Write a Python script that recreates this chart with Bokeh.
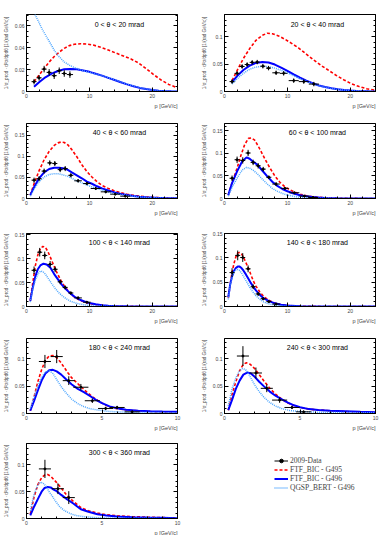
import math
from bokeh.plotting import figure
from bokeh.models import (Range1d, FixedTicker, NumeralTickFormatter, Label, Title,
                          LinearAxis, Legend, LegendItem, ColumnDataSource,
                          CustomJSTickFormatter)
from bokeh.layouts import column, row
from bokeh.embed import file_html
from bokeh.resources import INLINE

# ---------------- data ----------------
titles = ["0 < θ < 20 mrad", "20 < θ < 40 mrad", "40 < θ < 60 mrad",
          "60 < θ < 100 mrad", "100 < θ < 140 mrad", "140 < θ < 180 mrad",
          "180 < θ < 240 mrad", "240 < θ < 300 mrad", "300 < θ < 360 mrad"]
x_max = [24, 24, 24, 24, 24, 24, 10, 10, 10]
y_max = [0.0705, 0.14, 0.178, 0.166, 0.153, 0.15, 0.137, 0.137, 0.14]
x_ticks_wide = [0, 10, 20]
x_ticks_narrow = [0, 5, 10]
y_ticks_first = [0, 0.02, 0.04, 0.06]
y_ticks_other = [0, 0.05, 0.1, 0.15]
x_title = "p [GeV/c]"
y_title = "1/σ_prod · d²σ/dpdθ [1/(rad GeV/c)]"

# panel 1 : 0-20 mrad
data_p_1 = [1.2, 2.0, 2.8, 3.6, 4.4, 5.2, 6.0, 6.9]
data_y_1 = [0.009, 0.0125, 0.0205, 0.0175, 0.0145, 0.019, 0.0165, 0.0155]
data_ey_1 = [0.0025, 0.0025, 0.003, 0.003, 0.003, 0.003, 0.003, 0.003]
data_ex_1 = [0.4, 0.4, 0.4, 0.4, 0.4, 0.4, 0.4, 0.5]
g495_p_1 = [1.2, 2.0, 2.8, 3.6, 4.4, 5.2, 6.0, 6.8, 7.6, 8.6, 9.6, 10.6, 11.8, 13.0, 14.2, 15.4, 16.6, 17.8, 19.0, 20.2, 21.4, 22.6, 23.8]
g495_y_1 = [0.009, 0.015, 0.021, 0.027, 0.032, 0.036, 0.0395, 0.042, 0.0432, 0.0437, 0.0434, 0.0425, 0.0405, 0.038, 0.0352, 0.0325, 0.0298, 0.0262, 0.021, 0.0155, 0.0105, 0.0065, 0.0038]
g496_p_1 = [1.2, 2, 3, 4, 5, 6, 7, 8, 9, 10, 11, 12, 13, 14, 15, 16, 17, 18, 19, 20, 21, 22, 23, 24]
g496_y_1 = [0.0043, 0.0085, 0.013, 0.0163, 0.0188, 0.0203, 0.0207, 0.0203, 0.0193, 0.018, 0.0163, 0.0145, 0.0125, 0.0105, 0.0085, 0.0065, 0.0048, 0.0033, 0.0022, 0.0013, 0.0008, 0.0004, 0.0002, 0.0001]
qgsp_p_1 = [1.2, 1.4, 2, 2.5, 3, 3.5, 4, 4.5, 5, 5.5, 6, 7, 8, 9, 10, 11, 12, 13, 14, 15, 16, 17, 18, 19, 20, 21, 22, 23, 24]
qgsp_y_1 = [0.076, 0.07, 0.063, 0.057, 0.052, 0.047, 0.042, 0.037, 0.033, 0.03, 0.027, 0.0235, 0.021, 0.019, 0.0175, 0.016, 0.0145, 0.0127, 0.0107, 0.0087, 0.0067, 0.005, 0.0035, 0.0023, 0.0014, 0.0008, 0.0004, 0.0002, 0.0001]

# panel 2 : 20-40 mrad
data_p_2 = [1.2, 2.0, 2.8, 3.6, 4.4, 5.2, 6.1, 7.0, 8.2, 9.4, 11.0, 12.6, 14.2]
data_y_2 = [0.018, 0.033, 0.0455, 0.049, 0.053, 0.0535, 0.046, 0.0425, 0.034, 0.033, 0.0198, 0.018, 0.0135]
data_ey_2 = [0.004] * 13
data_ex_2 = [0.4, 0.4, 0.4, 0.4, 0.4, 0.4, 0.4, 0.4, 0.6, 0.6, 0.8, 0.8, 0.8]
g495_p_2 = [1.2, 2, 3, 4, 5, 6, 6.8, 7.6, 8.6, 9.6, 10.6, 11.8, 13, 14.2, 15.4, 16.6, 17.8, 19, 20.2, 21.4, 22.6, 23.8]
g495_y_2 = [0.02, 0.038, 0.06, 0.078, 0.093, 0.102, 0.106, 0.105, 0.101, 0.095, 0.088, 0.079, 0.068, 0.057, 0.047, 0.038, 0.029, 0.021, 0.014, 0.009, 0.005, 0.0025]
g496_p_2 = [1.2, 2, 3, 4, 5, 6, 7, 8, 9, 10, 11, 12, 13, 14, 15, 16, 17, 18, 19, 20, 21, 22, 23, 24]
g496_y_2 = [0.017, 0.028, 0.039, 0.047, 0.052, 0.0537, 0.0528, 0.049, 0.0435, 0.0375, 0.031, 0.025, 0.0195, 0.015, 0.011, 0.0082, 0.0058, 0.004, 0.0026, 0.0016, 0.001, 0.0006, 0.0003, 0.0002]
qgsp_p_2 = [1.2, 2, 3, 4, 5, 6, 7, 8, 9, 10, 11, 12, 13, 14, 15, 16, 17, 18, 19, 20, 21, 22, 23, 24]
qgsp_y_2 = [0.0135, 0.023, 0.033, 0.0405, 0.0445, 0.0457, 0.0452, 0.0425, 0.0385, 0.034, 0.0285, 0.0232, 0.0185, 0.0143, 0.0107, 0.0079, 0.0056, 0.0039, 0.0026, 0.0016, 0.001, 0.0006, 0.0003, 0.0002]

# panel 3 : 40-60 mrad
data_p_3 = [1.2, 2.0, 2.8, 3.7, 4.5, 5.35, 6.15, 7.05, 8.2, 9.6, 11.0, 12.6, 14.1, 15.7]
data_y_3 = [0.0435, 0.047, 0.065, 0.0845, 0.083, 0.0685, 0.071, 0.055, 0.042, 0.0355, 0.0237, 0.0158, 0.0103, 0.0055]
data_ey_3 = [0.006, 0.006, 0.006, 0.006, 0.006, 0.006, 0.006, 0.005, 0.004, 0.004, 0.003, 0.003, 0.002, 0.002]
data_ex_3 = [0.4, 0.4, 0.4, 0.4, 0.4, 0.4, 0.4, 0.4, 0.6, 0.6, 0.8, 0.8, 0.8, 0.8]
g495_p_3 = [0.6, 1.2, 2, 2.8, 3.6, 4.4, 5.0, 5.5, 6.0, 6.6, 7.2, 8, 8.8, 9.6, 10.4, 11.2, 12, 13, 14, 15, 16, 17, 18, 19, 20, 21, 22, 23, 24]
g495_y_3 = [0.008, 0.035, 0.066, 0.092, 0.112, 0.126, 0.132, 0.134, 0.133, 0.127, 0.116, 0.099, 0.08, 0.064, 0.051, 0.04, 0.031, 0.024, 0.018, 0.0135, 0.01, 0.0075, 0.0055, 0.004, 0.0028, 0.002, 0.0012, 0.0007, 0.0004]
g496_p_3 = [0.6, 1.2, 2, 2.8, 3.6, 4.4, 5.2, 6.0, 6.5, 7.2, 8, 8.8, 9.6, 10.4, 11.2, 12, 13, 14, 15, 16, 17, 18, 19, 20, 21, 22, 23, 24]
g496_y_3 = [0.008, 0.027, 0.048, 0.062, 0.07, 0.073, 0.073, 0.071, 0.0685, 0.062, 0.055, 0.048, 0.04, 0.035, 0.029, 0.024, 0.019, 0.0145, 0.011, 0.0082, 0.006, 0.0044, 0.0031, 0.0021, 0.0014, 0.0009, 0.0005, 0.0003]
qgsp_p_3 = [0.6, 1.2, 2, 2.8, 3.6, 4.4, 5.2, 6.0, 6.5, 7.2, 8, 8.8, 9.6, 10.4, 11.2, 12, 13, 14, 15, 16, 17, 18, 19, 20, 21, 22, 23, 24]
qgsp_y_3 = [0.0055, 0.022, 0.04, 0.051, 0.057, 0.059, 0.0585, 0.055, 0.053, 0.048, 0.042, 0.037, 0.032, 0.0275, 0.0235, 0.02, 0.0155, 0.012, 0.0092, 0.007, 0.0052, 0.0038, 0.0027, 0.0019, 0.0013, 0.0008, 0.0005, 0.0003]

# panel 4 : 60-100 mrad
data_p_4 = [1.2, 2.0, 2.9, 3.75, 4.55, 5.35, 6.15, 7.05, 8.2, 9.6, 11.1, 12.7, 14.1]
data_y_4 = [0.0448, 0.0858, 0.0843, 0.1007, 0.0799, 0.0724, 0.065, 0.047, 0.032, 0.0224, 0.0127, 0.0052, 0.0022]
data_ey_4 = [0.006, 0.007, 0.007, 0.007, 0.006, 0.006, 0.005, 0.004, 0.004, 0.003, 0.002, 0.002, 0.002]
data_ex_4 = [0.4, 0.4, 0.4, 0.4, 0.4, 0.4, 0.4, 0.4, 0.6, 0.6, 0.8, 0.8, 0.8]
g495_p_4 = [0.6, 1.2, 2, 2.6, 3.2, 3.8, 4.3, 4.8, 5.4, 6, 6.6, 7.2, 8, 8.8, 9.6, 10.4, 11.2, 12, 13, 14, 15, 16, 17, 18, 20, 22, 24]
g495_y_4 = [0.0075, 0.035, 0.067, 0.095, 0.119, 0.133, 0.134, 0.129, 0.115, 0.099, 0.083, 0.068, 0.05, 0.036, 0.026, 0.019, 0.014, 0.0095, 0.0062, 0.004, 0.0026, 0.0017, 0.0011, 0.0007, 0.0003, 0.0001, 0.0]
g496_p_4 = [0.6, 1.2, 2, 2.8, 3.5, 4.0, 4.6, 5.2, 6, 6.8, 7.6, 8.4, 9.2, 10, 11, 12, 13, 14, 15, 16, 18, 20, 22, 24]
g496_y_4 = [0.0075, 0.034, 0.06, 0.082, 0.091, 0.088, 0.081, 0.075, 0.062, 0.049, 0.037, 0.028, 0.021, 0.016, 0.011, 0.0072, 0.0048, 0.0031, 0.002, 0.0013, 0.0005, 0.0002, 0.0001, 0.0]
qgsp_p_4 = [0.6, 1.2, 2, 2.8, 3.5, 4.0, 4.6, 5.2, 6, 6.8, 7.6, 8.4, 9.2, 10, 11, 12, 13, 14, 15, 16, 18, 20, 22, 24]
qgsp_y_4 = [0.005, 0.025, 0.045, 0.063, 0.069, 0.067, 0.062, 0.055, 0.043, 0.032, 0.0224, 0.016, 0.011, 0.0077, 0.0048, 0.0029, 0.0018, 0.0011, 0.0007, 0.0004, 0.0002, 0.0001, 0.0, 0.0]

# panel 5 : 100-140 mrad
data_p_5 = [1.2, 2.1, 2.9, 3.75, 4.55, 5.35, 6.15, 7.05, 8.2, 9.6]
data_y_5 = [0.0759, 0.1138, 0.107, 0.0883, 0.078, 0.0517, 0.04, 0.0283, 0.018, 0.009]
data_ey_5 = [0.008, 0.009, 0.008, 0.007, 0.006, 0.005, 0.004, 0.003, 0.003, 0.002]
data_ex_5 = [0.4, 0.4, 0.4, 0.4, 0.4, 0.4, 0.4, 0.4, 0.6, 0.6]
g495_p_5 = [0.6, 1.0, 1.4, 1.8, 2.2, 2.6, 3.0, 3.4, 3.8, 4.3, 4.8, 5.4, 6, 6.8, 7.6, 8.4, 9.2, 10, 11, 12, 13, 14, 16, 18, 20, 24]
g495_y_5 = [0.012, 0.05, 0.085, 0.108, 0.121, 0.126, 0.124, 0.115, 0.103, 0.087, 0.072, 0.056, 0.043, 0.03, 0.02, 0.0135, 0.0092, 0.0062, 0.0037, 0.0022, 0.0013, 0.0008, 0.0003, 0.0001, 0.0, 0.0]
g496_p_5 = [0.6, 1.0, 1.4, 1.8, 2.2, 2.7, 3.2, 3.8, 4.4, 5, 5.6, 6.2, 7, 7.8, 8.6, 9.4, 10.2, 11, 12, 13, 14, 16, 18, 20, 24]
g496_y_5 = [0.012, 0.04, 0.063, 0.078, 0.086, 0.0897, 0.088, 0.081, 0.068, 0.057, 0.046, 0.037, 0.027, 0.019, 0.0135, 0.0095, 0.0066, 0.0045, 0.0028, 0.0017, 0.001, 0.0004, 0.0001, 0.0, 0.0]
qgsp_p_5 = [0.6, 1.0, 1.45, 1.9, 2.25, 2.6, 3.0, 3.5, 4, 4.6, 5.2, 6, 7, 8, 9, 10, 11, 12, 14, 16, 20, 24]
qgsp_y_5 = [0.009, 0.038, 0.057, 0.0695, 0.0745, 0.073, 0.068, 0.058, 0.048, 0.037, 0.028, 0.019, 0.011, 0.0065, 0.0038, 0.0022, 0.0013, 0.0008, 0.0003, 0.0001, 0.0, 0.0]

# panel 6 : 140-180 mrad
data_p_6 = [1.2, 2.1, 2.9, 3.75, 4.55, 5.35, 6.15, 7.05, 8.2]
data_y_6 = [0.0697, 0.105, 0.1006, 0.0774, 0.0406, 0.0258, 0.016, 0.010, 0.005]
data_ey_6 = [0.009, 0.01, 0.009, 0.007, 0.005, 0.004, 0.003, 0.002, 0.002]
data_ex_6 = [0.4, 0.4, 0.4, 0.4, 0.4, 0.4, 0.4, 0.4, 0.6]
g495_p_6 = [0.6, 0.9, 1.2, 1.5, 1.8, 2.1, 2.4, 2.7, 3.0, 3.4, 3.8, 4.2, 4.6, 5.0, 5.6, 6.2, 7, 8, 9, 10, 11, 12, 14, 16, 20, 24]
g495_y_6 = [0.018, 0.045, 0.07, 0.088, 0.102, 0.110, 0.111, 0.108, 0.102, 0.09, 0.079, 0.065, 0.052, 0.042, 0.03, 0.021, 0.0129, 0.007, 0.0037, 0.002, 0.0011, 0.0006, 0.0002, 0.0001, 0.0, 0.0]
g496_p_6 = [0.6, 0.9, 1.2, 1.5, 1.8, 2.1, 2.4, 2.7, 3.0, 3.4, 3.8, 4.2, 4.6, 5.0, 5.6, 6.2, 7, 8, 9, 10, 12, 14, 16, 20, 24]
g496_y_6 = [0.019, 0.045, 0.062, 0.073, 0.079, 0.082, 0.082, 0.079, 0.074, 0.066, 0.057, 0.048, 0.04, 0.033, 0.024, 0.017, 0.0116, 0.0065, 0.0035, 0.0019, 0.0006, 0.0002, 0.0001, 0.0, 0.0]
qgsp_p_6 = [0.6, 0.9, 1.2, 1.5, 1.8, 2.1, 2.4, 2.8, 3.2, 3.6, 4.0, 4.5, 5, 5.6, 6.2, 7, 8, 9, 10, 12, 14, 20, 24]
qgsp_y_6 = [0.0148, 0.043, 0.06, 0.07, 0.075, 0.076, 0.074, 0.067, 0.058, 0.049, 0.04, 0.03, 0.022, 0.015, 0.0095, 0.0055, 0.0028, 0.0014, 0.0007, 0.0002, 0.0001, 0.0, 0.0]

# panel 7 : 180-240 mrad
data_p_7 = [1.22, 2.0, 2.8, 3.6, 4.36, 5.24, 6.0, 7.0]
data_y_7 = [0.095, 0.104, 0.06, 0.048, 0.0233, 0.0092, 0.011, 0.003]
data_ey_7 = [0.012, 0.012, 0.008, 0.006, 0.004, 0.003, 0.003, 0.002]
data_ex_7 = [0.4, 0.4, 0.4, 0.5, 0.5, 0.5, 0.5, 0.5]
g495_p_7 = [0.25, 0.5, 0.75, 1.0, 1.25, 1.5, 1.75, 2.0, 2.25, 2.5, 2.75, 3.0, 3.3, 3.6, 4.0, 4.4, 4.8, 5.3, 5.8, 6.4, 7.0, 7.8, 8.6, 9.4, 10]
g495_y_7 = [0.005, 0.03, 0.058, 0.08, 0.097, 0.105, 0.106, 0.102, 0.094, 0.084, 0.074, 0.065, 0.057, 0.049, 0.039, 0.03, 0.022, 0.0145, 0.01, 0.0072, 0.0055, 0.004, 0.003, 0.0023, 0.0018]
g496_p_7 = [0.25, 0.5, 0.75, 1.0, 1.25, 1.5, 1.75, 2.0, 2.3, 2.6, 3.0, 3.4, 3.8, 4.2, 4.6, 5.0, 5.5, 6.0, 6.6, 7.4, 8.2, 9.0, 10]
g496_y_7 = [0.005, 0.023, 0.042, 0.06, 0.073, 0.079, 0.0798, 0.077, 0.071, 0.063, 0.053, 0.045, 0.039, 0.032, 0.025, 0.019, 0.013, 0.0095, 0.007, 0.0052, 0.0043, 0.0036, 0.003]
qgsp_p_7 = [0.25, 0.5, 0.75, 1.0, 1.25, 1.5, 1.75, 2.0, 2.3, 2.6, 3.0, 3.4, 3.8, 4.2, 4.7, 5.2, 5.8, 6.5, 7.5, 8.5, 10]
qgsp_y_7 = [0.009, 0.03, 0.05, 0.066, 0.076, 0.0785, 0.073, 0.062, 0.049, 0.038, 0.026, 0.018, 0.0125, 0.0088, 0.0065, 0.0045, 0.0032, 0.0025, 0.002, 0.0017, 0.0014]

# panel 8 : 240-300 mrad
data_p_8 = [1.22, 2.08, 2.8, 3.65, 4.47, 5.24]
data_y_8 = [0.105, 0.074, 0.046, 0.0245, 0.011, 0.003]
data_ey_8 = [0.018, 0.01, 0.007, 0.005, 0.003, 0.002]
data_ex_8 = [0.4, 0.4, 0.4, 0.5, 0.5, 0.5]
g495_p_8 = [0.25, 0.5, 0.75, 1.0, 1.25, 1.45, 1.7, 2.0, 2.3, 2.6, 3.0, 3.4, 3.8, 4.2, 4.6, 5.0, 5.6, 6.2, 7.0, 8.0, 9.0, 10]
g495_y_8 = [0.006, 0.035, 0.058, 0.078, 0.09, 0.0926, 0.09, 0.082, 0.071, 0.06, 0.046, 0.035, 0.026, 0.019, 0.0145, 0.011, 0.008, 0.0065, 0.005, 0.0035, 0.0025, 0.0018]
g496_p_8 = [0.25, 0.5, 0.75, 1.0, 1.25, 1.5, 1.75, 2.0, 2.3, 2.6, 3.0, 3.4, 3.8, 4.2, 4.6, 5.0, 5.6, 6.2, 7, 8, 9, 10]
g496_y_8 = [0.006, 0.025, 0.045, 0.06, 0.071, 0.0748, 0.073, 0.067, 0.058, 0.05, 0.04, 0.032, 0.026, 0.02, 0.015, 0.0115, 0.008, 0.0065, 0.005, 0.004, 0.003, 0.0025]
qgsp_p_8 = [0.25, 0.5, 0.75, 1.0, 1.2, 1.4, 1.6, 1.8, 2.0, 2.3, 2.6, 3.0, 3.4, 3.8, 4.3, 5, 6, 7, 8, 10]
qgsp_y_8 = [0.014, 0.045, 0.065, 0.078, 0.0822, 0.08, 0.072, 0.062, 0.052, 0.04, 0.03, 0.02, 0.0135, 0.009, 0.0055, 0.0035, 0.0025, 0.002, 0.0017, 0.0012]

# panel 9 : 300-360 mrad
data_p_9 = [1.22, 2.08, 2.8]
data_y_9 = [0.0926, 0.0556, 0.039]
data_ey_9 = [0.017, 0.010, 0.012]
data_ex_9 = [0.4, 0.4, 0.4]
g495_p_9 = [0.25, 0.5, 0.75, 1.0, 1.2, 1.4, 1.6, 1.8, 2.0, 2.3, 2.7, 3.1, 3.6, 4.1, 4.7, 5.3, 6.0, 7.0, 8.0, 9.0, 10]
g495_y_9 = [0.008, 0.04, 0.063, 0.076, 0.081, 0.082, 0.079, 0.073, 0.067, 0.057, 0.042, 0.032, 0.0204, 0.0145, 0.01, 0.0072, 0.005, 0.0035, 0.0025, 0.0017, 0.001]
g496_p_9 = [0.25, 0.5, 0.8, 1.0, 1.2, 1.4, 1.6, 1.8, 2.0, 2.3, 2.7, 3.1, 3.6, 4.1, 4.7, 5.3, 6.0, 7, 8, 9, 10]
g496_y_9 = [0.006, 0.022, 0.039, 0.05, 0.057, 0.059, 0.058, 0.054, 0.051, 0.044, 0.0358, 0.028, 0.0173, 0.0125, 0.008, 0.0055, 0.0037, 0.0025, 0.0018, 0.0012, 0.0006]
qgsp_p_9 = [0.25, 0.5, 0.75, 0.93, 1.1, 1.3, 1.5, 1.7, 1.9, 2.2, 2.5, 2.9, 3.3, 3.8, 4.5, 5.5, 7, 10]
qgsp_y_9 = [0.014, 0.045, 0.063, 0.068, 0.066, 0.06, 0.05, 0.042, 0.033, 0.022, 0.015, 0.009, 0.0055, 0.0035, 0.0018, 0.0009, 0.0004, 0.0001]

legend_labels = ["2009-Data", "FTF_BIC - G495", "FTF_BIC - G496", "QGSP_BERT - G496"]

data_p = [data_p_1, data_p_2, data_p_3, data_p_4, data_p_5, data_p_6, data_p_7, data_p_8, data_p_9]
data_y = [data_y_1, data_y_2, data_y_3, data_y_4, data_y_5, data_y_6, data_y_7, data_y_8, data_y_9]
data_ey = [data_ey_1, data_ey_2, data_ey_3, data_ey_4, data_ey_5, data_ey_6, data_ey_7, data_ey_8, data_ey_9]
data_ex = [data_ex_1, data_ex_2, data_ex_3, data_ex_4, data_ex_5, data_ex_6, data_ex_7, data_ex_8, data_ex_9]
g495 = [(g495_p_1, g495_y_1), (g495_p_2, g495_y_2), (g495_p_3, g495_y_3), (g495_p_4, g495_y_4), (g495_p_5, g495_y_5),
        (g495_p_6, g495_y_6), (g495_p_7, g495_y_7), (g495_p_8, g495_y_8), (g495_p_9, g495_y_9)]
g496 = [(g496_p_1, g496_y_1), (g496_p_2, g496_y_2), (g496_p_3, g496_y_3), (g496_p_4, g496_y_4), (g496_p_5, g496_y_5),
        (g496_p_6, g496_y_6), (g496_p_7, g496_y_7), (g496_p_8, g496_y_8), (g496_p_9, g496_y_9)]
qgsp = [(qgsp_p_1, qgsp_y_1), (qgsp_p_2, qgsp_y_2), (qgsp_p_3, qgsp_y_3), (qgsp_p_4, qgsp_y_4), (qgsp_p_5, qgsp_y_5),
        (qgsp_p_6, qgsp_y_6), (qgsp_p_7, qgsp_y_7), (qgsp_p_8, qgsp_y_8), (qgsp_p_9, qgsp_y_9)]

# ---------------- style ----------------
RED = "#ff0000"
BLUE = "#0000ff"
LBLUE = "#4da6ff"
SANS = "Liberation Sans"
SERIF = "Liberation Serif"

ROW_CFG = [(14, 77, 27), (5, 75, 30), (5, 73, 27), (5, 75, 25), (5, 75, 16)]  # top, frame h, bottom
COL_CFG = [(26, 21), (24, 11)]  # left, right
FRAME_W = 151

EMPTY_FMT = CustomJSTickFormatter(code="return ''")


def style_axes(p, xt, yt, xmn, ymn):
    p.xaxis.ticker = FixedTicker(ticks=xt, minor_ticks=xmn)
    p.yaxis.ticker = FixedTicker(ticks=yt, minor_ticks=ymn)
    p.yaxis.formatter = NumeralTickFormatter(format="0.[00]")
    for ax in p.xaxis + p.yaxis:
        ax.major_tick_in = 4
        ax.major_tick_out = 0
        ax.minor_tick_in = 2
        ax.minor_tick_out = 0
        ax.major_label_text_font = SANS
        ax.major_label_text_font_size = "5px"
        ax.major_label_standoff = 2
        ax.axis_line_color = "black"
        ax.major_tick_line_color = "black"
        ax.minor_tick_line_color = "black"
    ya = p.yaxis[0]
    ya.axis_label = y_title
    ya.axis_label_text_font = SANS
    ya.axis_label_text_font_size = "4.6px"
    ya.axis_label_text_font_style = "normal"
    ya.axis_label_standoff = 3
    rax = LinearAxis(ticker=FixedTicker(ticks=yt, minor_ticks=ymn),
                     formatter=EMPTY_FMT, major_label_text_font_size="5px",
                     major_label_standoff=0,
                     major_tick_in=4, major_tick_out=0, minor_tick_in=2, minor_tick_out=0)
    p.add_layout(rax, "right")
    p.add_layout(Title(text=x_title, align="right", text_font=SANS,
                       text_font_size="5.5px", text_font_style="normal",
                       standoff=0, offset=0), "below")


figs = []
for i in range(9):
    r, c = divmod(i, 2)
    t, fh, b = ROW_CFG[r]
    lft, rgt = COL_CFG[c]
    xm, ym = x_max[i], y_max[i]
    p = figure(frame_width=FRAME_W, frame_height=fh,
               min_border_left=lft, min_border_right=rgt, min_border_top=t, min_border_bottom=b,
               x_range=Range1d(0, xm), y_range=Range1d(0, ym),
               output_backend="svg", toolbar_location=None)
    p.xgrid.visible = False
    p.ygrid.visible = False
    p.outline_line_color = "black"
    p.outline_line_width = 1
    p.background_fill_color = "white"
    p.border_fill_color = "white"

    if xm > 12:
        xt = x_ticks_wide
        xmn = [v for v in range(0, 25, 2)]
    else:
        xt = x_ticks_narrow
        xmn = [v for v in range(0, 11)]
    if i == 0:
        yt = y_ticks_first
        ymn = [k * 0.005 for k in range(0, 15)]
    else:
        yt = y_ticks_other
        ymn = [k * 0.01 for k in range(0, 18)]
    style_axes(p, xt, yt, xmn, ymn)

    # model curves
    p.line(g495[i][0], g495[i][1], line_color=RED, line_width=1.6, line_dash="3 2")
    p.line(g496[i][0], g496[i][1], line_color=BLUE, line_width=2)
    p.line(qgsp[i][0], qgsp[i][1], line_color=LBLUE, line_width=1.5, line_dash="1 1")

    # data with error bars
    xs, ys, ey, ex = data_p[i], data_y[i], data_ey[i], data_ex[i]
    src = ColumnDataSource(dict(
        x=xs, y=ys,
        x0=[a - e for a, e in zip(xs, ex)], x1=[a + e for a, e in zip(xs, ex)],
        y0=[a - e for a, e in zip(ys, ey)], y1=[a + e for a, e in zip(ys, ey)]))
    p.segment(x0="x0", y0="y", x1="x1", y1="y", source=src, line_color="black", line_width=1)
    p.segment(x0="x", y0="y0", x1="x", y1="y1", source=src, line_color="black", line_width=1)
    p.scatter("x", "y", source=src, size=2, color="black")

    # panel title
    p.add_layout(Label(x=0.615 * xm, y=0.875 * ym, text=titles[i], text_align="center",
                       text_baseline="middle", text_font=SANS, text_font_size="7px",
                       text_color="black"))
    figs.append(p)

# legend panel
t, fh, b = ROW_CFG[4]
lft, rgt = COL_CFG[1]
pl = figure(frame_width=FRAME_W, frame_height=fh,
            min_border_left=lft, min_border_right=rgt, min_border_top=t, min_border_bottom=b,
            x_range=Range1d(0, 1), y_range=Range1d(0, 1),
            output_backend="svg", toolbar_location=None)
pl.axis.visible = False
pl.xgrid.visible = False
pl.ygrid.visible = False
pl.outline_line_color = None
r_dl = pl.line([-5, -4], [-5, -4], line_color="black", line_width=1)
r_dp = pl.scatter([-5], [-5], size=2.5, color="black")
r_red = pl.line([-5, -4], [-5, -4], line_color=RED, line_width=1.6, line_dash="3 2")
r_blue = pl.line([-5, -4], [-5, -4], line_color=BLUE, line_width=2)
r_lb = pl.line([-5, -4], [-5, -4], line_color=LBLUE, line_width=1.5, line_dash="1 1")
leg = Legend(items=[LegendItem(label=legend_labels[0], renderers=[r_dl, r_dp]),
                    LegendItem(label=legend_labels[1], renderers=[r_red]),
                    LegendItem(label=legend_labels[2], renderers=[r_blue]),
                    LegendItem(label=legend_labels[3], renderers=[r_lb])],
             location=(52, 26), padding=0, margin=0, spacing=0,
             label_height=9, glyph_height=9, glyph_width=14, label_standoff=2,
             label_text_font=SERIF, label_text_font_size="7.5px",
             background_fill_alpha=0, border_line_color=None)
pl.add_layout(leg, "center")
figs.append(pl)

layout = column(*[row(figs[2 * k], figs[2 * k + 1]) for k in range(5)], spacing=0)

open("out.html", "w").write(file_html(layout, INLINE))
